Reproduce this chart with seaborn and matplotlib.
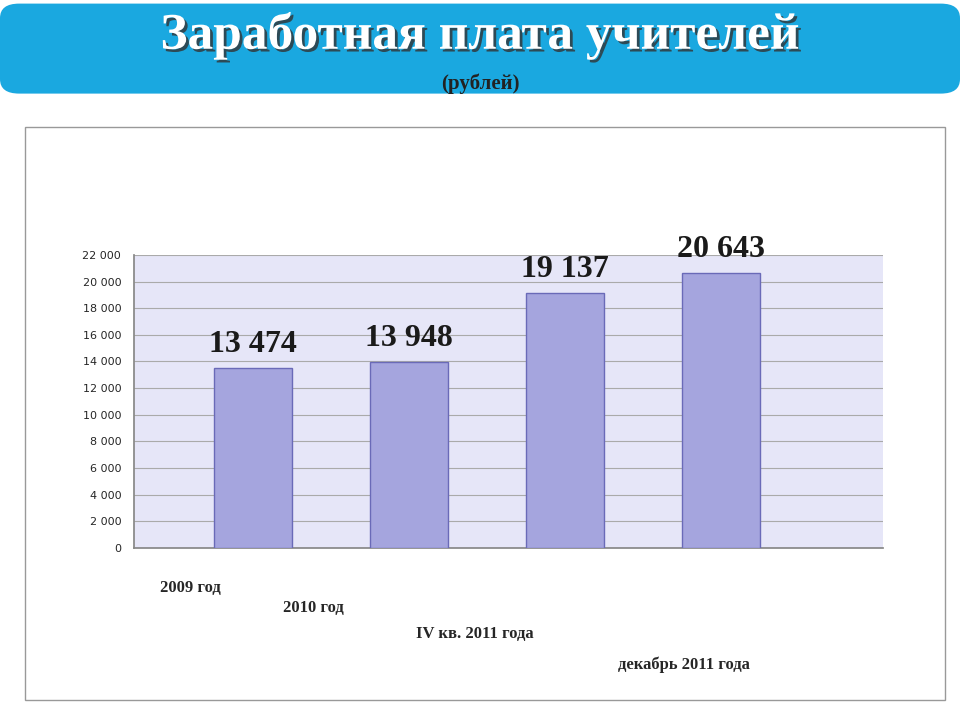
import numpy as np
import matplotlib
matplotlib.use('agg')
import matplotlib.pyplot as plt
import matplotlib.patheffects as pe
from matplotlib.patches import FancyBboxPatch, Rectangle
import seaborn as sns
import pandas as pd

categories = ['2009 год', '2010 год', 'IV кв. 2011 года', 'декабрь 2011 года']
values = [13474, 13948, 19137, 20643]
value_labels = ['13 474', '13 948', '19 137', '20 643']
yticks = list(range(0, 22001, 2000))

sns.set_theme(style='white')
plt.rcParams['font.family'] = ['DejaVu Sans']

fig = plt.figure(figsize=(9.6, 7.2), dpi=100)
fig.patch.set_facecolor('white')

# banner
banner = FancyBboxPatch((0.0, 0.87), 1.0, 0.125, boxstyle='round,pad=0,rounding_size=0.02',
                        transform=fig.transFigure, facecolor='#1aa8e0', edgecolor='none', zorder=-2)
fig.patches.append(banner)
fig.text(0.5, 0.950, 'Заработная плата учителей', ha='center', va='center', color='white',
         fontsize=37, fontweight='bold', family='Liberation Serif',
         path_effects=[pe.withSimplePatchShadow(offset=(2, -2), shadow_rgbFace='#333333', alpha=0.8)])
fig.text(0.5, 0.884, '(рублей)', ha='center', va='center', color='#222222',
         fontsize=15, fontweight='bold', family='Liberation Serif')

# chart frame
frame = Rectangle((0.026, 0.028), 0.958, 0.795, transform=fig.transFigure,
                  facecolor='none', edgecolor='#999999', lw=1, zorder=-1)
fig.patches.append(frame)

ax = fig.add_axes([0.14, 0.239, 0.78, 0.407])
ax.set_facecolor('#e6e6f8')
df = pd.DataFrame({'cat': categories, 'val': values})
sns.barplot(data=df, x='cat', y='val', ax=ax, color='#9b9be8', width=0.5,
            edgecolor='#6a6ab8', linewidth=1, zorder=3)
ax.set_xlim(-0.76, 4.04)
ax.set_ylim(0, 22000)
ax.set_yticks(yticks)
ax.set_yticklabels([f'{t:,}'.replace(',', ' ') for t in yticks], fontsize=8)
ax.yaxis.grid(True, color='#aaaaaa', lw=0.8, zorder=0)
ax.set_xlabel('')
ax.set_ylabel('')
ax.set_xticks(range(len(categories)))
ax.set_xticklabels([''] * len(categories))
for s in ['top', 'right']:
    ax.spines[s].set_visible(False)
ax.spines['left'].set_color('#888888')
ax.spines['bottom'].set_color('#888888')

for i, (v, lab) in enumerate(zip(values, value_labels)):
    ax.text(i, v + 700, lab, ha='center', va='bottom', fontsize=23, fontweight='bold',
            family='Liberation Serif', color='#1a1a1a')

# staggered category labels
dx = [-45, -69, -65, -27]
dy = [-29, -43, -62, -84]
for i, c in enumerate(categories):
    ax.annotate(c, xy=(i, 0), xycoords='data', xytext=(dx[i], dy[i]), textcoords='offset points',
                ha='center', va='center', fontsize=12, fontweight='bold', family='Liberation Serif',
                annotation_clip=False)

fig.savefig('out.png', dpi=100)
